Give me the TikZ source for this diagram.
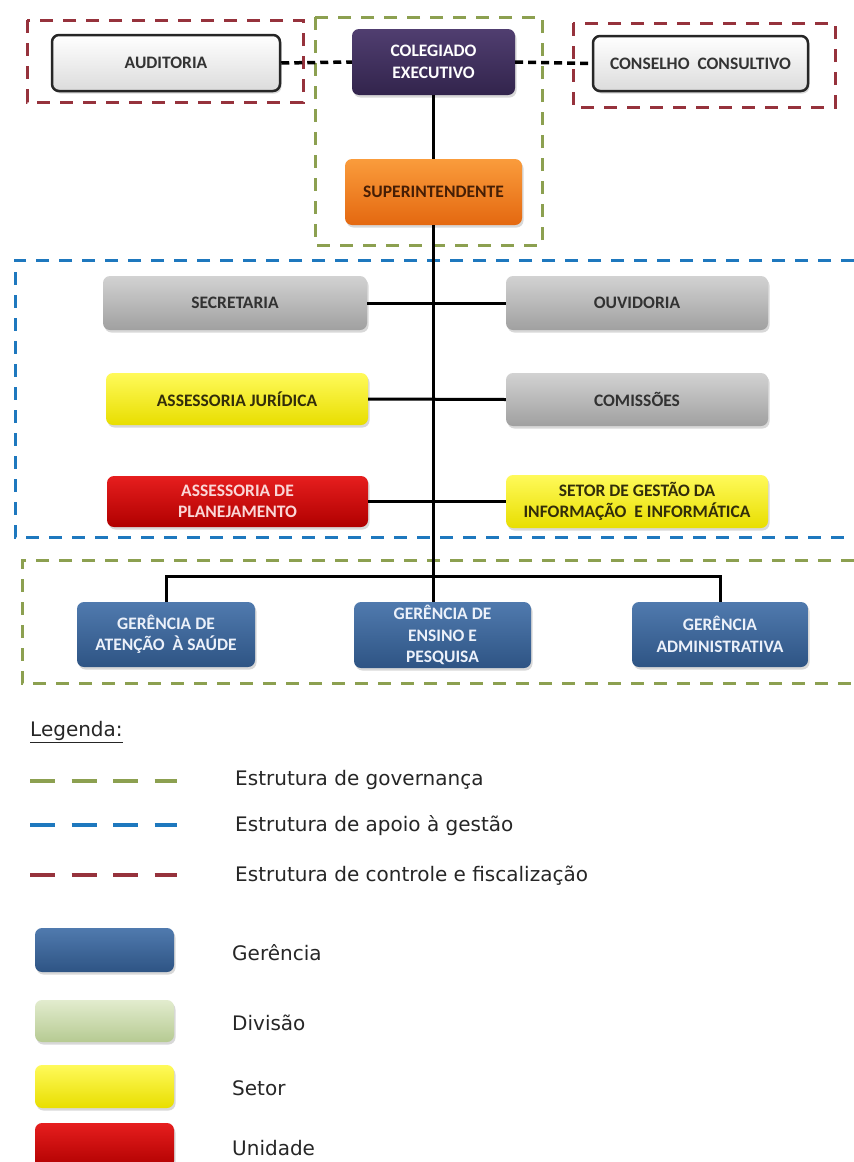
\documentclass[tikz,border=0pt]{standalone}
\usepackage{fontspec}
\setmainfont{DejaVu Sans}
\newfontfamily\boxfont{Carlito}
\usetikzlibrary{shadows}
\definecolor{frameG}{RGB}{140,160,80}
\definecolor{frameB}{RGB}{30,120,190}
\definecolor{frameR}{RGB}{150,50,60}
\definecolor{purT}{RGB}{80,62,112}
\definecolor{purB}{RGB}{50,36,76}
\definecolor{oraT}{RGB}{250,156,60}
\definecolor{oraB}{RGB}{228,104,16}
\definecolor{oraTx}{RGB}{70,30,5}
\definecolor{gryT}{RGB}{210,210,210}
\definecolor{gryB}{RGB}{160,160,160}
\definecolor{gryTx}{RGB}{50,50,50}
\definecolor{yelT}{RGB}{255,250,90}
\definecolor{yelB}{RGB}{232,222,0}
\definecolor{yelTx}{RGB}{50,45,10}
\definecolor{redT}{RGB}{230,30,30}
\definecolor{redB}{RGB}{176,0,0}
\definecolor{redTx}{RGB}{250,215,215}
\definecolor{bluT}{RGB}{80,122,174}
\definecolor{bluB}{RGB}{46,84,132}
\definecolor{bluTx}{RGB}{236,241,250}
\definecolor{grnT}{RGB}{226,236,206}
\definecolor{grnB}{RGB}{182,202,146}
\tikzset{
  wh/.style 2 args={minimum width=#1pt, minimum height=#2pt},
  orgbox/.style={rounded corners=7pt, inner sep=0pt, align=center,
    font=\boxfont\bfseries\fontsize{17.5}{21.5}\selectfont,
    drop shadow={opacity=0.3, shadow xshift=1.5pt, shadow yshift=-2.5pt}},
  whitebox/.style={orgbox, draw=black!85, line width=2.5pt, top color=white, bottom color=black!14, text=black!80},
  purbox/.style={orgbox, top color=purT, bottom color=purB, text=white},
  orabox/.style={orgbox, top color=oraT, bottom color=oraB, text=oraTx},
  grybox/.style={orgbox, top color=gryT, bottom color=gryB, text=gryTx},
  yelbox/.style={orgbox, top color=yelT, bottom color=yelB, text=yelTx},
  redbox/.style={orgbox, top color=redT, bottom color=redB, text=redTx},
  blubox/.style={orgbox, top color=bluT, bottom color=bluB, text=bluTx},
  grnbox/.style={orgbox, top color=grnT, bottom color=grnB},
  wire/.style={line width=3pt, black},
  dashwire/.style={line width=3.5pt, black, dash pattern=on 8pt off 5pt},
  frame/.style={line width=3pt, dash pattern=on 13pt off 10pt},
  legline/.style={line width=4pt, dash pattern=on 25pt off 16.5pt},
  legtext/.style={anchor=west, inner sep=0pt, font=\fontsize{20}{24}\selectfont, text=black!85},
}
\begin{document}
\begin{tikzpicture}[x=1pt,y=-1pt]
\useasboundingbox (0,0) rectangle (854,1162);
\clip (0,0) rectangle (854,1162);
\fill[white] (0,0) rectangle (854,1162);

% frames
\draw[frame, frameR] (27,20) rectangle (303,102);
\draw[frame, frameG] (315,17) rectangle (542,245);
\draw[frame, frameR] (573,23) rectangle (835,107);
\draw[frame, frameB] (854,260) -- (15,260) -- (15,537) -- (854,537);
\draw[frame, frameG] (854,560) -- (22,560) -- (22,683) -- (854,683);

% nodes
\node[whitebox, wh={228}{56}] (aud) at (166,63) {AUDITORIA};
\node[purbox, wh={163}{66}] (col) at (433.5,62) {COLEGIADO\\EXECUTIVO};
\node[whitebox, wh={215}{55}] (cons) at (700.5,63.5) {CONSELHO\ \ CONSULTIVO};
\node[orabox, wh={177}{66}] (sup) at (433.5,192) {SUPERINTENDENTE};

\node[grybox, wh={264}{54}] (sec) at (235,303) {SECRETARIA};
\node[grybox, wh={262}{54}] (ouv) at (637,303) {OUVIDORIA};
\node[yelbox, wh={262}{52}] (jur) at (237,399) {ASSESSORIA JURÍDICA};
\node[grybox, wh={262}{53}] (com) at (637,399.5) {COMISSÕES};
\node[redbox, wh={261}{51}] (pla) at (237.5,501.5) {ASSESSORIA DE\\PLANEJAMENTO};
\node[yelbox, wh={262}{53}] (set) at (637,501.5) {SETOR DE GESTÃO DA\\INFORMAÇÃO\ \ E INFORMÁTICA};

\node[blubox, wh={178}{65}] (g1) at (166,634.5) {GERÊNCIA DE\\ATENÇÃO \ À SAÚDE};
\node[blubox, wh={177}{66}] (g2) at (442.5,635) {GERÊNCIA DE\\ENSINO E\\PESQUISA};
\node[blubox, wh={176}{65}] (g3) at (720,634.5) {GERÊNCIA\\ADMINISTRATIVA};

% connectors
\draw[dashwire] (aud.east) -- (col.west);
\draw[dashwire] (col.east) -- (cons.west);
\draw[wire] (col.south) -- (sup.north);
\coordinate (bus) at (433.5,576);
\draw[wire] (sup.south) -- (sup.south |- g2.north);
\draw[wire] (sec.east) -- (ouv.west);
\draw[wire] (jur.east) -- (com.west);
\draw[wire] (pla.east) -- (set.west);
\draw[wire] (g1.north) -- (g1.north |- bus) -- (g3.north |- bus) -- (g3.north);

% legend
\node[legtext] (leg) at (30,732) {\underline{Legenda:}};
\draw[legline, frameG] (30,781) -- (177,781);
\draw[legline, frameB] (30,825) -- (177,825);
\draw[legline, frameR] (30,875) -- (177,875);
\node[legtext] (l1) at (235,780) {Estrutura de governança};
\node[legtext] (l2) at (235,826) {Estrutura de apoio à gestão};
\node[legtext] (l3) at (235,876) {Estrutura de controle e fiscalização};

\node[blubox, wh={139}{44}] (k1) at (104.5,950) {};
\node[grnbox, wh={139}{42}] (k2) at (104.5,1021) {};
\node[yelbox, wh={139}{43}] (k3) at (104.5,1086.5) {};
\node[redbox, wh={139}{45}] (k4) at (104.5,1145.5) {};
\node[legtext] (t1) at (232,953) {Gerência};
\node[legtext] (t2) at (232,1023) {Divisão};
\node[legtext] (t3) at (232,1088) {Setor};
\node[legtext] (t4) at (232,1148) {Unidade};
\end{tikzpicture}
\end{document}
